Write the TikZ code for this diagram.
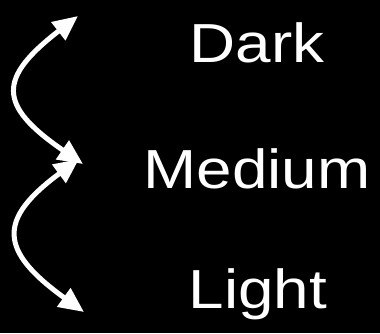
\documentclass[tikz,border=0pt]{standalone}
\usepackage{fontspec}
\usetikzlibrary{arrows.meta}
\newfontfamily\labelfont[FakeStretch=1.16]{Liberation Sans}

\begin{document}
\begin{tikzpicture}[x=1pt, y=1pt,
      lbl/.style={anchor=base, text=white, inner sep=0pt, font=\labelfont\fontsize{55}{60}\selectfont},
      swing/.style={draw=white, line width=5pt, {Triangle[length=25pt, width=22pt]}-{Triangle[length=25pt, width=22pt]}}]
    \fill[black] (0,0) rectangle (380,333);
    \useasboundingbox (0,0) rectangle (380,333);
    \node[lbl] (dark) at (257,271) {Dark};
    \node[lbl] (medium) at (257,145) {Medium};
    \node[lbl] (light) at (258,25) {Light};
    \coordinate (dtip) at (78,317);
    \coordinate (mtip1) at (83,169);
    \coordinate (mtip2) at (79,174);
    \coordinate (ltip) at (84,21);
    \draw[swing] (dtip) .. controls (-2,255) and (-3,228) .. (mtip1);
    \draw[swing] (mtip2) .. controls (-2,114) and (-2,83) .. (ltip);
  \end{tikzpicture}
\end{document}
